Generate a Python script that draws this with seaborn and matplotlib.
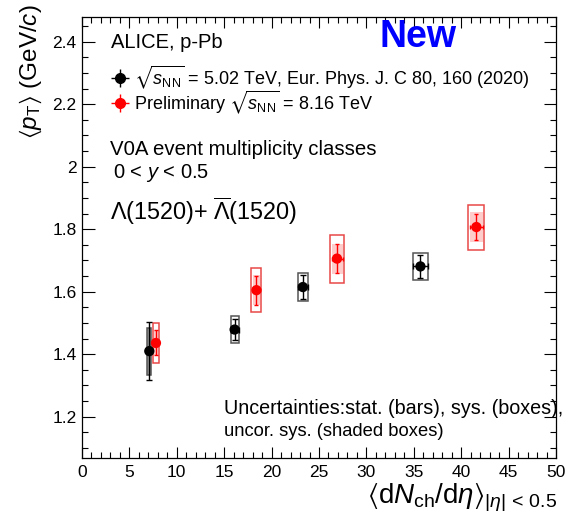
import numpy as np
import pandas as pd
import seaborn as sns
import matplotlib
matplotlib.use("Agg")
import matplotlib.pyplot as plt
from matplotlib.patches import Rectangle
from matplotlib.ticker import MultipleLocator
from matplotlib.container import ErrorbarContainer
from matplotlib.lines import Line2D
from matplotlib.collections import LineCollection

# ---- data: <pT> of Lambda(1520) vs <dNch/deta> ----
# published 5.02 TeV
x_502 = [7.1, 16.1, 23.3, 35.7]
y_502 = [1.410, 1.479, 1.615, 1.681]
stat_502 = [0.092, 0.035, 0.037, 0.036]
sys_502 = [0.075, 0.043, 0.045, 0.042]
xerr_502 = [0.21, 0.42, 0.49, 0.75]
uncor_502 = [0.075, np.nan, np.nan, np.nan]

# preliminary 8.16 TeV
x_816 = [7.8, 18.4, 26.9, 41.6]
y_816 = [1.436, 1.605, 1.706, 1.807]
stat_816 = [0.040, 0.046, 0.046, 0.043]
sys_816 = [0.064, 0.071, 0.077, 0.072]
uncor_816 = [0.040, 0.048, 0.048, 0.048]
xerr_816 = [0.30, 0.53, 0.75, 0.84]
xerr_uncor_816 = [0.22, 0.39, 0.58, 0.72]

x_ticks = [0, 5, 10, 15, 20, 25, 30, 35, 40, 45, 50]
y_ticks = [1.2, 1.4, 1.6, 1.8, 2.0, 2.2, 2.4]
y_tick_labels = ["1.2", "1.4", "1.6", "1.8", "2", "2.2", "2.4"]

df = pd.DataFrame({
    "x": x_502 + x_816,
    "y": y_502 + y_816,
    "set": ["502"] * len(x_502) + ["816"] * len(x_816),
})

sns.set_style("ticks")
plt.rcParams["font.family"] = ["Liberation Sans", "DejaVu Sans"]
plt.rcParams["mathtext.fontset"] = "custom"
plt.rcParams["mathtext.rm"] = "Liberation Sans"
plt.rcParams["mathtext.it"] = "Liberation Sans:italic"
plt.rcParams["mathtext.bf"] = "Liberation Sans:bold"
plt.rcParams["mathtext.fallback"] = "stixsans"
plt.rcParams["text.color"] = "black"
plt.rcParams["xtick.color"] = "black"
plt.rcParams["ytick.color"] = "black"
plt.rcParams["xtick.labelcolor"] = "black"
plt.rcParams["ytick.labelcolor"] = "black"
plt.rcParams["hatch.color"] = (1, 0.7, 0.7)
plt.rcParams["hatch.linewidth"] = 0.6

W, H = 568, 526
fig = plt.figure(figsize=(W / 100, H / 100), dpi=100)
ax = fig.add_axes([82 / W, 1 - 458 / H, (556 - 82) / W, (458 - 16.7) / H])

RED = "#ff0000"

# boxes: 5.02
for xi, yi, s, u, xe in zip(x_502, y_502, sys_502, uncor_502, xerr_502):
    if np.isfinite(u):
        ax.add_patch(Rectangle((xi - xe, yi - u), 2 * xe, 2 * u,
                               facecolor="#999999", edgecolor="none", zorder=2))
    ax.add_patch(Rectangle((xi - xe, yi - s), 2 * xe, 2 * s,
                           facecolor="none", edgecolor="#555555", lw=1.1, zorder=3))
# boxes: 8.16
for xi, yi, s, u, xe, xu in zip(x_816, y_816, sys_816, uncor_816, xerr_816, xerr_uncor_816):
    ax.add_patch(Rectangle((xi - xu, yi - u), 2 * xu, 2 * u,
                           facecolor=(1, 0.8, 0.8), edgecolor="none",
                           hatch="....", lw=0, zorder=2))
    ax.add_patch(Rectangle((xi - xe, yi - s), 2 * xe, 2 * s,
                           facecolor="none", edgecolor="#e84848", lw=1.1, zorder=3))

# stat bars
ax.errorbar(x_502, y_502, yerr=stat_502, xerr=xerr_502, fmt="none",
            ecolor="black", elinewidth=1.0, capsize=2.5, capthick=1.0, zorder=4)
ax.errorbar(x_816, y_816, yerr=stat_816, xerr=xerr_uncor_816, fmt="none",
            ecolor=RED, elinewidth=1.0, capsize=1.5, capthick=1.0, zorder=4)

# markers
sns.scatterplot(data=df, x="x", y="y", hue="set",
                palette={"502": "black", "816": RED}, s=55,
                edgecolor="none", legend=False, ax=ax, zorder=5)

ax.set_xlim(0, 50)
ax.set_ylim(1.068, 2.48)
ax.set_xticks(x_ticks)
ax.set_yticks(y_ticks)
ax.set_yticklabels(y_tick_labels)
ax.xaxis.set_minor_locator(MultipleLocator(1))
ax.yaxis.set_minor_locator(MultipleLocator(0.05))
ax.tick_params(which="both", direction="in", top=True, right=True,
               labelsize=12.5, width=0.8, color="black")
ax.tick_params(axis="x", which="major", length=8, pad=5)
ax.tick_params(axis="x", which="minor", length=4)
ax.tick_params(axis="y", which="major", length=9, pad=4)
ax.tick_params(axis="y", which="minor", length=4.5)
for sp in ax.spines.values():
    sp.set_linewidth(0.9)
    sp.set_color("black")
ax.set_xlabel("")
ax.set_ylabel("")


def P(x, y):
    return x / W, 1 - y / H


fig.text(*P(31, 4), r"$\langle p_{\rm T}\rangle$ (GeV/$c$)", rotation=90,
         ha="center", va="top", fontsize=17.5)
fig.text(*P(557, 503), r"$\langle {\rm d}N_{\rm ch}/{\rm d}\eta\rangle_{|\eta|\,<\,0.5}$",
         ha="right", va="baseline", fontsize=20)

fig.text(*P(111, 48), "ALICE, p-Pb", ha="left", va="baseline", fontsize=14.5)
fig.text(*P(380, 47), "New", ha="left", va="baseline", fontsize=27,
         fontweight="bold", color="#0000ff")
fig.text(*P(110, 155), "V0A event multiplicity classes", ha="left",
         va="baseline", fontsize=14.7)
fig.text(*P(113, 178), r"0 < $y$ < 0.5", ha="left", va="baseline", fontsize=14.5)
fig.text(*P(110, 220), r"$\Lambda$(1520)+ $\overline{\Lambda}$(1520)", ha="left",
         va="baseline", fontsize=16.8)
fig.text(*P(224, 414), "Uncertainties:stat. (bars), sys. (boxes),", ha="left",
         va="baseline", fontsize=14.2)
fig.text(*P(224, 436), "uncor. sys. (shaded boxes)", ha="left",
         va="baseline", fontsize=13.2)


def handle(color):
    ln = Line2D([], [], marker="o", color=color, ls="none", ms=7)
    bx = LineCollection([], colors=color, linewidths=1)
    by = LineCollection([], colors=color, linewidths=1)
    return ErrorbarContainer((ln, (), (bx, by)), has_xerr=True, has_yerr=True)


leg = ax.legend([handle("black"), handle(RED)],
                [r"$\sqrt{s_{\rm NN}}$ = 5.02 TeV, Eur. Phys. J. C 80, 160 (2020)",
                 r"Preliminary $\sqrt{s_{\rm NN}}$ = 8.16 TeV"],
                loc="upper left", bbox_to_anchor=P(112, 64),
                bbox_transform=fig.transFigure, frameon=False, fontsize=13,
                handlelength=0.9, handletextpad=0.3, labelspacing=-0.18,
                borderpad=0, borderaxespad=0)

fig.savefig("out.png", dpi=100)
